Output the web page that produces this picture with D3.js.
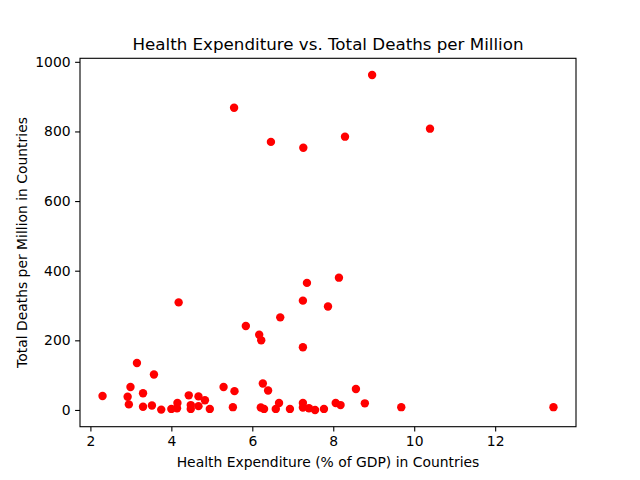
<!DOCTYPE html>
<html>
<head>
<meta charset="utf-8">
<script src="https://cdn.jsdelivr.net/npm/d3@7/dist/d3.min.js"></script>
<style>
  body { margin: 0; background: #fff; }
  svg { display: block; font-family: "DejaVu Sans", sans-serif; }
</style>
</head>
<body>
<div id="chart"></div>
<script>
  // health expenditure (% of GDP)
  const healthExp = [
    2.30, 2.92, 2.95, 2.99, 3.15, 3.30, 3.30, 3.52, 3.57, 3.75,
    4.00, 4.14, 4.15, 4.18, 4.43, 4.48, 4.48, 4.67, 4.67, 4.83,
    4.95, 5.29, 5.52, 5.55, 5.56, 5.84, 6.17, 6.21, 6.22, 6.26,
    6.29, 6.39, 6.46, 6.58, 6.66, 6.69, 6.93, 7.25, 7.25, 7.25,
    7.25, 7.26, 7.35, 7.40, 7.55, 7.77, 7.87, 8.06, 8.14, 8.18,
    8.29, 8.56, 8.78, 8.96, 9.68, 10.39, 13.44
  ];
  // total deaths per million
  const deathsPerMillion = [
    40, 38, 16, 66, 135, 48, 9, 13, 102, 1,
    3, 5, 20, 309, 42, 14, 3, 39, 11, 28,
    3, 66, 8, 868, 54, 241, 216, 7, 200, 76,
    3, 56, 770, 3, 20, 266, 3, 20, 7, 180,
    314, 753, 365, 5, 0, 3, 297, 20, 380, 14,
    785, 60, 19, 962, 8, 808, 8
  ];
  const xTicks = [2, 4, 6, 8, 10, 12];
  const yTicks = [0, 200, 400, 600, 800, 1000];

  const W = 640, H = 480;
  const margin = { top: 58.3, right: 64, bottom: 53.3, left: 80 };
  const iw = W - margin.left - margin.right;
  const ih = H - margin.top - margin.bottom;

  const points = healthExp.map((x, i) => ({ x, y: deathsPerMillion[i] }));

  // matplotlib style 5% padding
  const xe = d3.extent(healthExp), ye = d3.extent(deathsPerMillion);
  const xPad = (xe[1] - xe[0]) * 0.05, yPad = (ye[1] - ye[0]) * 0.05;

  const x = d3.scaleLinear().domain([xe[0] - xPad, xe[1] + xPad]).range([0, iw]);
  const y = d3.scaleLinear().domain([ye[0] - yPad, ye[1] + yPad]).range([ih, 0]);

  const svg = d3.select("#chart").append("svg")
    .attr("width", W)
    .attr("height", H);

  const g = svg.append("g")
    .attr("transform", `translate(${margin.left},${margin.top})`);

  g.append("g")
    .selectAll("circle")
    .data(points)
    .join("circle")
      .attr("cx", d => x(d.x))
      .attr("cy", d => y(d.y))
      .attr("r", 4.2)
      .attr("fill", "#ff0000");

  const xAxis = g.append("g")
    .attr("transform", `translate(0,${ih})`)
    .call(d3.axisBottom(x).tickValues(xTicks).tickSize(4.9).tickPadding(4.5).tickFormat(d3.format("d")));
  const yAxis = g.append("g")
    .call(d3.axisLeft(y).tickValues(yTicks).tickSize(4.9).tickPadding(4.5).tickFormat(d3.format("d")));

  [xAxis, yAxis].forEach(a => {
    a.select(".domain").remove();
    a.selectAll("line").attr("stroke", "#000").attr("stroke-width", 1.1);
    a.selectAll("text").attr("font-family", "DejaVu Sans").attr("font-size", 13.9).attr("fill", "#000");
  });

  // frame
  g.append("rect")
    .attr("width", iw)
    .attr("height", ih)
    .attr("fill", "none")
    .attr("stroke", "#000")
    .attr("stroke-width", 1.1);

  svg.append("text")
    .attr("x", margin.left + iw / 2)
    .attr("y", margin.top - 8.3)
    .attr("text-anchor", "middle")
    .attr("font-size", 16.7)
    .text("Health Expenditure vs. Total Deaths per Million");

  svg.append("text")
    .attr("x", margin.left + iw / 2)
    .attr("y", 467)
    .attr("text-anchor", "middle")
    .attr("font-size", 13.9)
    .text("Health Expenditure (% of GDP) in Countries");

  svg.append("text")
    .attr("transform", `translate(27,${margin.top + ih / 2}) rotate(-90)`)
    .attr("text-anchor", "middle")
    .attr("font-size", 13.9)
    .text("Total Deaths per Million in Countries");
</script>
</body>
</html>
